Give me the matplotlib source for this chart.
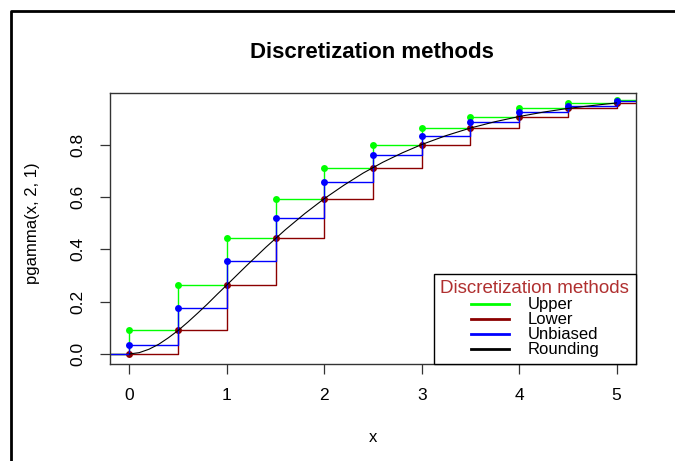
import numpy as np
import matplotlib
matplotlib.use("Agg")
import matplotlib.pyplot as plt
from matplotlib.lines import Line2D

plt.rcParams.update({"font.family": ["Liberation Sans", "DejaVu Sans"],
                     "axes.linewidth": 1.0})

# knots of the discretization (step 0.5)
knots = [0, 0.5, 1, 1.5, 2, 2.5, 3, 3.5, 4, 4.5, 5]
# cumulative probabilities
upper = [0.090, 0.264, 0.442, 0.594, 0.713, 0.801, 0.864, 0.908, 0.939, 0.960, 0.973]
lower = [0.000, 0.090, 0.264, 0.442, 0.594, 0.713, 0.801, 0.864, 0.908, 0.939, 0.960]
unbiased = [0.033, 0.175, 0.355, 0.521, 0.656, 0.759, 0.834, 0.888, 0.925, 0.950, 0.966]

# pgamma(x, 2, 1) curve
curve_x = [0, 0.1, 0.2, 0.3, 0.4, 0.5, 0.6, 0.7, 0.8, 0.9, 1.0, 1.2, 1.4, 1.6, 1.8, 2.0,
           2.2, 2.4, 2.6, 2.8, 3.0, 3.25, 3.5, 3.75, 4.0, 4.25, 4.5, 4.75, 5.0]
curve_y = [0.000, 0.005, 0.018, 0.037, 0.062, 0.090, 0.122, 0.156, 0.191, 0.228, 0.264,
           0.337, 0.408, 0.475, 0.537, 0.594, 0.645, 0.692, 0.733, 0.769, 0.801, 0.835,
           0.864, 0.888, 0.908, 0.925, 0.939, 0.950, 0.960]

methods = ["Upper", "Lower", "Unbiased", "Rounding"]
colors = ["#00ff00", "#8b0000", "#0000ff", "black"]

fig = plt.figure(figsize=(6.75, 4.61), dpi=100)
ax = fig.add_axes([110 / 675, 1 - 364 / 461, 526 / 675, 271 / 461])
ax.set_xlim(-0.2, 5.2)
ax.set_ylim(-0.0384, 0.998)
x0, x1 = ax.get_xlim()

for vals, col in zip([upper, lower, unbiased], colors[:3]):
    xs = [x0] + knots + [x1]
    ys = [0] + vals + [vals[-1]]
    ax.step(xs, ys, where="post", color=col, lw=1.0)
    ax.plot(knots, vals, "o", color=col, ms=5, mec="none")

ax.plot(curve_x, curve_y, color="black", lw=0.8)

ax.set_xticks([0, 1, 2, 3, 4, 5])
ax.set_yticks([0.0, 0.2, 0.4, 0.6, 0.8])
ax.set_yticklabels(["0.0", "0.2", "0.4", "0.6", "0.8"], rotation=90, va="center")
ax.tick_params(axis="both", direction="out", length=7, width=0.9, labelsize=12.5,
               color="#333333")
ax.tick_params(axis="x", pad=10)
ax.tick_params(axis="y", pad=11)
for s in ax.spines.values():
    s.set_color("#333333")

ax.set_xlabel("x", fontsize=12, labelpad=20)
ax.set_ylabel("pgamma(x, 2, 1)", fontsize=12)
ax.yaxis.set_label_coords(-0.133, 0.52)
fig.suptitle("Discretization methods", fontsize=16, fontweight="bold", x=372 / 675, y=1 - 52 / 461,
             va="center")

handles = [Line2D([], [], color=c, lw=2) for c in colors]
leg = ax.legend(handles, methods, title="Discretization methods", loc="lower right",
                bbox_to_anchor=(1, 0), borderaxespad=0, fontsize=12, title_fontsize=13.5,
                fancybox=False, edgecolor="black", framealpha=1, labelspacing=0.0,
                handlelength=2.3, handletextpad=1.1, borderpad=0.4)
leg.get_title().set_color("#b03030")
leg.get_frame().set_linewidth(1.0)

# black frame of the screenshot
fig.add_artist(Line2D([11 / 675, 11 / 675, 1], [0, 1 - 11 / 461, 1 - 11 / 461],
                      transform=fig.transFigure, color="black", lw=2))

fig.savefig("out.png", dpi=100)
